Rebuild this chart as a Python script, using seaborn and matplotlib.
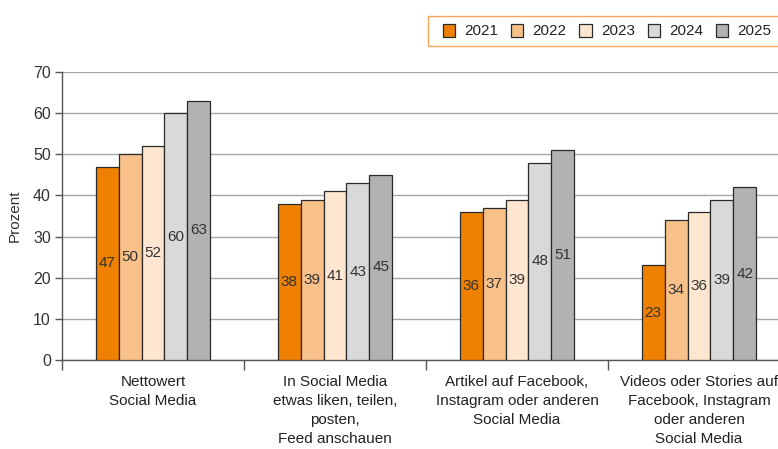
import matplotlib
matplotlib.use("Agg")
import matplotlib.pyplot as plt
from matplotlib.patches import Rectangle
from matplotlib.ticker import FixedLocator, NullFormatter
import seaborn as sns
import pandas as pd

categories = [
    "Nettowert\nSocial Media",
    "In Social Media\netwas liken, teilen,\nposten,\nFeed anschauen",
    "Artikel auf Facebook,\nInstagram oder anderen\nSocial Media",
    "Videos oder Stories auf\nFacebook, Instagram\noder anderen\nSocial Media",
]
years = ["2021", "2022", "2023", "2024", "2025"]
values_2021 = [47, 38, 36, 23]
values_2022 = [50, 39, 37, 34]
values_2023 = [52, 41, 39, 36]
values_2024 = [60, 43, 48, 39]
values_2025 = [63, 45, 51, 42]
colors = ["#F08000", "#F9C18A", "#FEE6D0", "#D9D9D9", "#B2B2B2"]

series = [values_2021, values_2022, values_2023, values_2024, values_2025]
rows = []
for year, vals in zip(years, series):
    for cat, v in zip(categories, vals):
        rows.append({"Kategorie": cat, "Jahr": year, "Wert": v})
df = pd.DataFrame(rows)

sns.set_style("white")
plt.rcParams["font.family"] = ["Liberation Sans", "DejaVu Sans"]

fig = plt.figure(figsize=(7.78, 4.49), dpi=100)
ax = fig.add_axes([62 / 778, 89 / 449, 728 / 778, 288 / 449])

sns.barplot(
    data=df, x="Kategorie", y="Wert", hue="Jahr", order=categories,
    hue_order=years, palette=colors, saturation=1, width=0.63, gap=0,
    edgecolor="#2a2a2a", linewidth=0.9, ax=ax, legend=True, zorder=3,
)

for container in ax.containers:
    ax.bar_label(container, label_type="center", fontsize=11, color="#333333")

ax.set_xlim(-0.5, 3.5)
ax.set_ylim(0, 70)
ax.set_yticks(range(0, 71, 10))
ax.yaxis.grid(True, color="#a6a6a6", linewidth=1.0, zorder=0)
ax.set_axisbelow(True)

for side in ["top", "right"]:
    ax.spines[side].set_visible(False)
for side in ["left", "bottom"]:
    ax.spines[side].set_color("#555555")
    ax.spines[side].set_linewidth(1.0)

ax.tick_params(axis="y", which="major", left=True, length=5, width=1,
               color="#555555", labelsize=11.5, labelcolor="#333333", pad=3)
ax.tick_params(axis="x", which="major", bottom=False, labelsize=11,
               labelcolor="#222222", pad=7)
ax.xaxis.set_minor_locator(FixedLocator([-0.5, 0.5, 1.5, 2.5, 3.5]))
ax.xaxis.set_minor_formatter(NullFormatter())
ax.tick_params(axis="x", which="minor", bottom=True, length=7, width=1,
               color="#555555")
for lbl in ax.get_xticklabels():
    lbl.set_linespacing(1.48)

ax.set_xlabel("")
ax.set_ylabel("Prozent", fontsize=11, color="#333333", labelpad=8)

# Legend box: an orange frame that runs off the right edge
fig.patches.append(Rectangle(
    (428 / 778, 1 - 46 / 449), 400 / 778, 30 / 449,
    transform=fig.transFigure, fill=False, edgecolor="#F5A65B",
    linewidth=1.0,
))

handles, labels = ax.get_legend_handles_labels()
ax.legend_.remove()
leg = fig.legend(
    handles, labels, loc="center left",
    bbox_to_anchor=(443 / 778, 1 - 31 / 449), ncol=5, fontsize=11,
    frameon=False, handlelength=0.8, handleheight=0.95,
    handletextpad=0.6, columnspacing=0.84, borderpad=0,
    borderaxespad=0,
)
for t in leg.get_texts():
    t.set_color("#222222")

fig.savefig("out.png", dpi=100)
